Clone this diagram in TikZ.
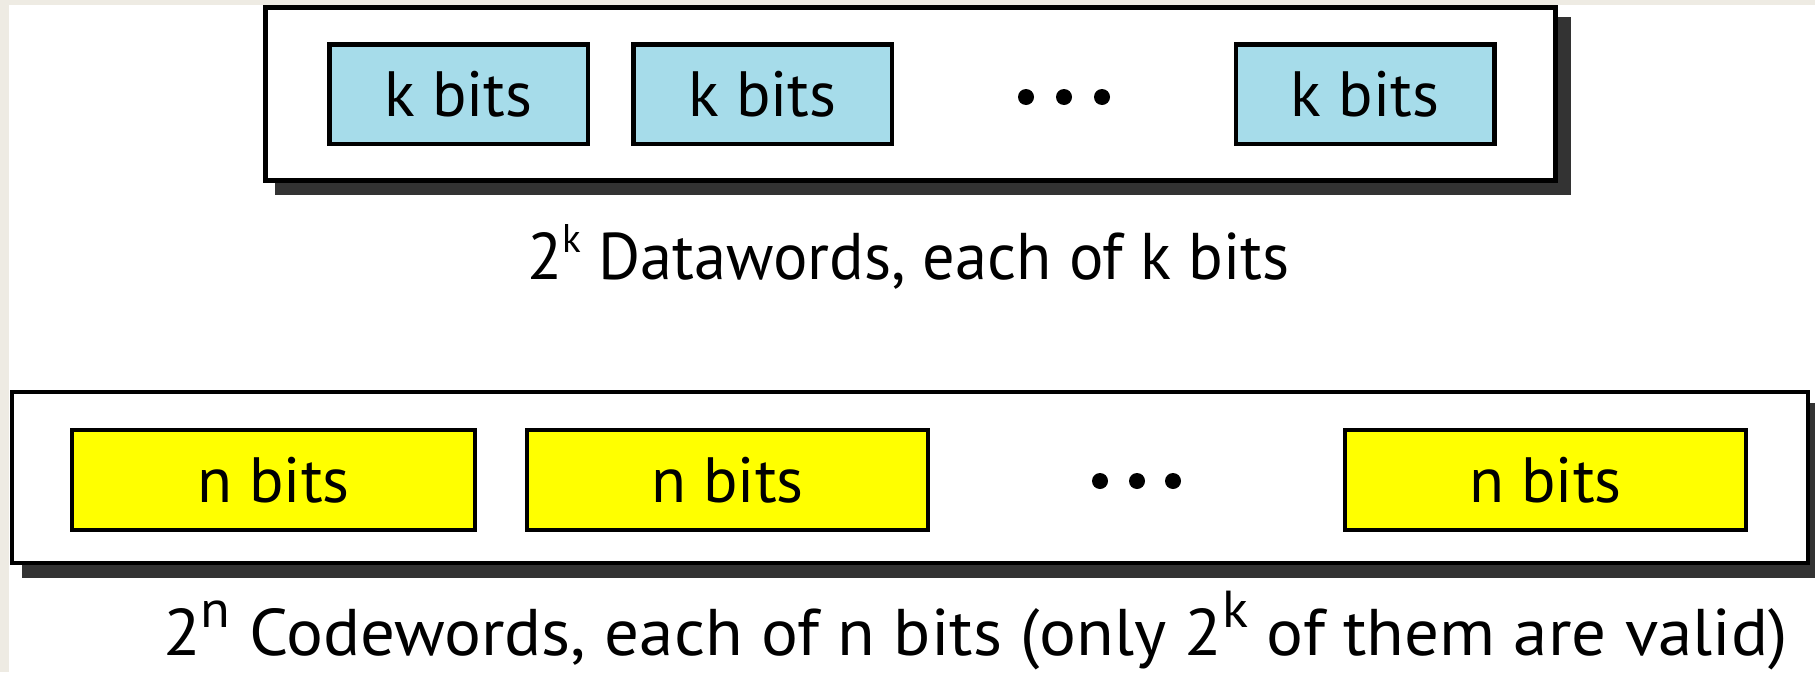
\documentclass[tikz,border=0pt]{standalone}
\usepackage{fontspec}
\setmainfont{PT Sans}
\definecolor{bgstrip}{HTML}{EEEBE3}
\definecolor{kblue}{HTML}{A6DCEA}
\definecolor{nyellow}{HTML}{FFFF00}
\definecolor{shadowgray}{HTML}{333333}
\newcommand\mainsize{\fontsize{66}{70}\selectfont}
\newcommand\boxsize{\fontsize{64}{68}\selectfont}
\newcommand\supa[1]{\raisebox{27pt}{\fontsize{40}{40}\selectfont #1}}
\newcommand\supb[1]{\raisebox{28pt}{\fontsize{52}{52}\selectfont #1}}
\pgfdeclarelayer{bg}
\pgfdeclarelayer{shadow}
\pgfsetlayers{bg,shadow,main}
\tikzset{
  outerbox/.style={draw=black, fill=white, inner sep=0pt},
  kbox/.style={draw=black, fill=kblue, line width=4.5pt, minimum width=258.5pt, minimum height=99.5pt, inner sep=0pt, font=\boxsize},
  nbox/.style={draw=black, fill=nyellow, line width=4pt, minimum width=403pt, minimum height=100pt, inner sep=0pt, font=\boxsize},
  bigdot/.style={circle, fill=black, minimum size=16pt, inner sep=0pt},
  captext/.style={anchor=base, font=\mainsize, inner sep=0pt}
}
\begin{document}
\begin{tikzpicture}[x=1pt,y=-1pt]
\useasboundingbox (0,0) rectangle (1815,672);
\begin{pgfonlayer}{bg}
\fill[white] (0,0) rectangle (1815,672);
\fill[bgstrip] (0,0) rectangle (1815,5);
\fill[bgstrip] (0,0) rectangle (9,672);
\end{pgfonlayer}
% top group
\node[outerbox, line width=5pt, minimum width=1290pt, minimum height=173pt] (dataframe) at (910.5,94) {};
\begin{pgfonlayer}{shadow}
\fill[shadowgray] ([shift={(12pt,-12pt)}]dataframe.north west) rectangle ([shift={(13pt,-12pt)}]dataframe.south east);
\end{pgfonlayer}
\node[kbox] (k1) at (458.5,94) {k bits};
\node[kbox] (k2) at (762.5,94) {k bits};
\node[kbox] (k3) at (1365,94) {k bits};
\node[bigdot] (kd1) at (1026,97) {};
\node[bigdot] (kd2) at (1064,97) {};
\node[bigdot] (kd3) at (1102,97) {};
\node[captext] (cap1) at (908.5,279) {\scalebox{0.976}[1]{2\supa{k} Datawords, each of k bits}};
% bottom group
\node[outerbox, line width=4pt, minimum width=1796pt, minimum height=171pt] (codeframe) at (910,477.5) {};
\begin{pgfonlayer}{shadow}
\fill[shadowgray] ([shift={(12pt,-13pt)}]codeframe.north west) rectangle ([shift={(13pt,-13pt)}]codeframe.south east);
\end{pgfonlayer}
\node[nbox] (n1) at (273.5,480) {n bits};
\node[nbox, minimum width=401pt] (n2) at (727.5,480) {n bits};
\node[nbox, minimum width=401pt] (n3) at (1545.5,480) {n bits};
\node[bigdot] (nd1) at (1100,481) {};
\node[bigdot] (nd2) at (1137,481) {};
\node[bigdot] (nd3) at (1173,481) {};
\node[captext] (cap2) at (975.5,655) {\scalebox{1.045}[1]{2\supb{n} Codewords, each of n bits (only 2\supb{k} of them are valid)}};
\end{tikzpicture}
\end{document}
